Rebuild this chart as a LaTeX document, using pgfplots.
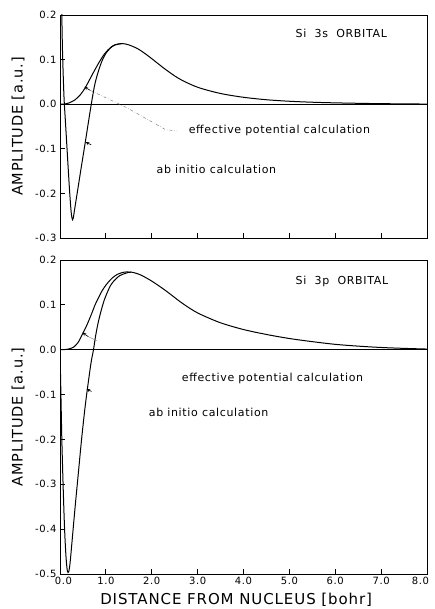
\documentclass[border=0pt]{standalone}
\usepackage{fontspec}
\setmainfont{DejaVu Sans}[LetterSpace=6]
\usepackage{pgfplots}
\pgfplotsset{compat=1.18}
\pgfplotsset{
  orb/.style={
    scale only axis, width=367pt, xmin=0, xmax=8,
    xtick pos=bottom, ytick pos=left, tick align=inside,
    major tick length=5pt, axis line style={line width=0.8pt},
    every tick/.style={black, line width=0.8pt},
    clip=true,
    tick label style={font=\fontsize{10}{12}\selectfont},
    every axis y label/.style={at={(axis description cs:-0.114,0.5)}, rotate=90, anchor=center, font=\fontsize{14.5}{16}\selectfont},
  },
  curve/.style={black, line width=1pt, smooth, tension=0.5, mark=none},
}
\newcommand{\ann}{\fontsize{11}{13}\selectfont}
\begin{document}
\begin{tikzpicture}[x=1pt,y=1pt]
\path[use as bounding box] (0,0) rectangle (434,-609);
% ---------- Si 3s ----------
\begin{axis}[orb, at={(60pt,-15pt)}, anchor=north west, height=223pt,
  ymin=-0.3, ymax=0.2,
  xtick={1,2,3,4,5,6,7}, xticklabels={},
  ytick={-0.3,-0.2,-0.1,0,0.1,0.2}, yticklabels={-0.3,-0.2,-0.1,0.0,0.1,0.2},
  ylabel={AMPLITUDE [a.u.]}]
\draw[line width=0.8pt] (axis cs:0,0) -- (axis cs:8,0);
% ab initio
\addplot[curve] coordinates {
(0.0,0.55) (0.03,0.27) (0.05,0.14) (0.07,0.065) (0.09,0.01) (0.12,-0.042)
(0.15,-0.094) (0.18,-0.146) (0.21,-0.196) (0.24,-0.238) (0.26,-0.255) (0.275,-0.259)
(0.29,-0.255) (0.32,-0.235) (0.36,-0.209) (0.40,-0.183) (0.45,-0.150) (0.50,-0.118)
(0.55,-0.086) (0.62,-0.040) (0.69,0.005) (0.76,0.045) (0.84,0.075) (0.92,0.098)
(1.0,0.114) (1.1,0.126) (1.2,0.133) (1.35,0.136) (1.5,0.133) (1.7,0.124) (1.9,0.110)
(2.1,0.094) (2.3,0.078) (2.6,0.057) (3.0,0.038) (3.5,0.024) (4.0,0.0155)
(4.5,0.010) (5.0,0.0066) (5.5,0.0044) (6.0,0.003) (6.5,0.002) (7.0,0.0012) (8.0,0.0003)};
% effective potential
\addplot[curve] coordinates {
(0,0) (0.1,0.0005) (0.2,0.003) (0.33,0.010) (0.45,0.022) (0.55,0.037)
(0.65,0.056) (0.76,0.077) (0.87,0.097) (0.98,0.114) (1.1,0.127) (1.2,0.133) (1.35,0.136)};
\draw[-stealth, line width=0.6pt] (axis cs:0.66,0.031) -- (axis cs:0.53,0.039);
\draw[gray, dash dot, line width=0.5pt] (axis cs:0.66,0.031) -- (axis cs:1.46,-0.008) -- (axis cs:2.3,-0.057) -- (axis cs:2.55,-0.06);
\draw[-stealth, line width=0.6pt] (axis cs:0.68,-0.091) -- (axis cs:0.56,-0.085);
\node[anchor=west, font=\ann] at (axis cs:2.73,-0.06) {effective potential calculation};
\node[anchor=west, font=\ann] at (axis cs:2.03,-0.146) {ab initio calculation};
\node[anchor=west, font=\ann] at (axis cs:5.06,0.158) {Si\ \ 3s\ \ ORBITAL};
\end{axis}
% ---------- Si 3p ----------
\begin{axis}[orb, at={(60pt,-574pt)}, anchor=south west, height=314pt,
  ymin=-0.5, ymax=0.2,
  xtick={0,1,2,3,4,5,6,7,8},
  xticklabels={\makebox[0pt][l]{\hspace{-5pt}0.0},1.0,2.0,3.0,4.0,5.0,6.0,7.0,\makebox[0pt][r]{8.0\hspace{-2pt}}},
  ytick={-0.5,-0.4,-0.3,-0.2,-0.1,0,0.1,0.2}, yticklabels={-0.5,-0.4,-0.3,-0.2,-0.1,0.0,0.1,0.2},
  ylabel={AMPLITUDE [a.u.]},
  xlabel={DISTANCE FROM NUCLEUS [bohr]},
  every axis x label/.style={at={(axis description cs:0.48,0)}, yshift=-26pt, anchor=center, font=\fontsize{15}{17}\selectfont}]
\draw[line width=0.8pt] (axis cs:0,0) -- (axis cs:8,0);
% ab initio
\addplot[curve] coordinates {
(0,0) (0.02,-0.1) (0.04,-0.2) (0.07,-0.31) (0.10,-0.40) (0.13,-0.46) (0.16,-0.493)
(0.19,-0.495) (0.22,-0.475) (0.26,-0.43) (0.33,-0.35) (0.40,-0.275) (0.47,-0.20)
(0.55,-0.125) (0.62,-0.07) (0.68,-0.027) (0.73,0.0) (0.78,0.033) (0.84,0.064)
(0.91,0.092) (0.98,0.115) (1.1,0.143) (1.2,0.156) (1.3,0.165) (1.42,0.170) (1.55,0.173)
(1.75,0.167) (2.0,0.153) (2.3,0.132) (2.62,0.107) (2.85,0.091) (3.06,0.079)
(3.5,0.060) (4.0,0.045) (4.5,0.034) (5.0,0.025) (5.5,0.018) (6.0,0.012)
(6.5,0.008) (7.0,0.005) (7.5,0.003) (8.0,0.0015)};
% effective potential
\addplot[curve] coordinates {
(0,0) (0.1,0.0003) (0.2,0.002) (0.3,0.006) (0.4,0.017) (0.47,0.031) (0.55,0.047)
(0.62,0.063) (0.70,0.083) (0.76,0.099) (0.84,0.116) (0.91,0.130) (1.0,0.144)
(1.13,0.159) (1.25,0.168) (1.4,0.173) (1.55,0.173)};
\draw[-stealth, line width=0.6pt] (axis cs:0.62,0.029) -- (axis cs:0.49,0.038);
\draw[gray, line width=0.4pt] (axis cs:0.62,0.029) -- (axis cs:0.8,0.02);
\draw[-stealth, line width=0.6pt] (axis cs:0.69,-0.093) -- (axis cs:0.58,-0.088);
\node[anchor=west, font=\ann] at (axis cs:2.58,-0.064) {effective potential calculation};
\node[anchor=west, font=\ann] at (axis cs:1.86,-0.139) {ab initio calculation};
\node[anchor=west, font=\ann] at (axis cs:5.06,0.152) {Si\ \ 3p\ \ ORBITAL};
\end{axis}
\end{tikzpicture}
\end{document}
